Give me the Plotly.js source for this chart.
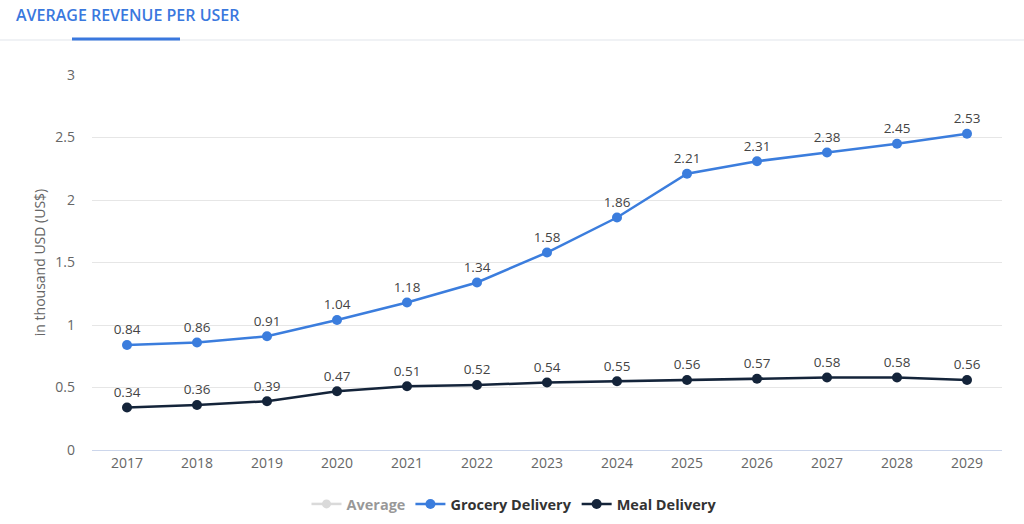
<!DOCTYPE html>
<html>
<head>
<meta charset="utf-8">
<script src="https://cdn.plot.ly/plotly-3.0.1.min.js"></script>
<style>html,body{margin:0;padding:0;background:#fff;}#chart{width:1024px;height:524px;}</style>
</head>
<body>
<div id="chart"></div>
<script>
const years = ["2017","2018","2019","2020","2021","2022","2023","2024","2025","2026","2027","2028","2029"];
const grocery = [0.84,0.86,0.91,1.04,1.18,1.34,1.58,1.86,2.21,2.31,2.38,2.45,2.53];
const meal = [0.34,0.36,0.39,0.47,0.51,0.52,0.54,0.55,0.56,0.57,0.58,0.58,0.56];
// "Average" is hidden in the source chart (legend only); no values are shown
const averageYears = ["2017"];
const averageValues = [null];
const yTicks = [0,0.5,1,1.5,2,2.5,3];
const yTickText = ["0","0.5","1","1.5","2","2.5","3"];

const blue = "#3b7ddd";
const navy = "#14243a";
const fontFam = "'Open Sans', 'DejaVu Sans', sans-serif";

const traces = [
  {x: averageYears, y: averageValues, name: "Average", mode: "lines+markers",
   visible: "legendonly", line: {color: "#b5b5b5", width: 2.5}, marker: {color: "#b5b5b5", size: 9}},
  {x: years, y: grocery, name: "Grocery Delivery", mode: "lines+markers+text",
   text: grocery.map(v => v.toFixed(2)), textposition: "top center",
   textfont: {family: fontFam, size: 13.5, color: "#444"},
   line: {color: blue, width: 2.5}, marker: {color: blue, size: 10}, cliponaxis: false, hoverinfo: "x+y"},
  {x: years, y: meal, name: "Meal Delivery", mode: "lines+markers+text",
   text: meal.map(v => v.toFixed(2)), textposition: "top center",
   textfont: {family: fontFam, size: 13.5, color: "#444"},
   line: {color: navy, width: 2.5}, marker: {color: navy, size: 10}, cliponaxis: false, hoverinfo: "x+y"}
];

const layout = {
  width: 1024, height: 524,
  margin: {l: 92, r: 22, t: 75, b: 74, autoexpand: false},
  paper_bgcolor: "#fff", plot_bgcolor: "#fff",
  font: {family: fontFam, color: "#666"},
  showlegend: true,
  legend: {orientation: "h", x: (514 - 92) / 910, xanchor: "center", y: -0.144, yanchor: "middle",
           font: {family: fontFam, size: 14.5, color: "#333", weight: "bold"}, itemwidth: 30,
           traceorder: "normal"},
  xaxis: {type: "category", range: [-0.5, 12.5], showgrid: false, zeroline: false,
          showline: true, linecolor: "#ccd6eb", linewidth: 1, ticks: "",
          tickfont: {family: fontFam, size: 14, color: "#666"}, fixedrange: true},
  yaxis: {range: [0, 3], tickvals: yTicks, ticktext: yTickText, showgrid: true,
          gridcolor: "#e6e6e6", gridwidth: 1, zeroline: false, showline: false,
          tickfont: {family: fontFam, size: 14, color: "#666"}, ticklabelstandoff: 16,
          title: {text: "in thousand USD (US$)", font: {family: fontFam, size: 14, color: "#666"}, standoff: 6},
          fixedrange: true},
  annotations: [
    {text: "AVERAGE REVENUE PER USER", xref: "paper", yref: "paper",
     x: (14 - 92) / 910, y: (450 - 15) / 375, xanchor: "left", yanchor: "middle",
     showarrow: false, font: {family: fontFam, size: 16, color: "#3a78de", weight: 600}}
  ],
  shapes: [
    {type: "line", xref: "paper", yref: "paper", x0: -92/910, x1: 1024/910, y0: (450-40)/375, y1: (450-40)/375,
     line: {color: "#f0f2f5", width: 2}},
    {type: "line", xref: "paper", yref: "paper", x0: (72-92)/910, x1: (180-92)/910, y0: (450-39)/375, y1: (450-39)/375,
     line: {color: "#3a78de", width: 3}}
  ]
};

Plotly.newPlot("chart", traces, layout, {displayModeBar: false, staticPlot: true});
</script>
</body>
</html>
